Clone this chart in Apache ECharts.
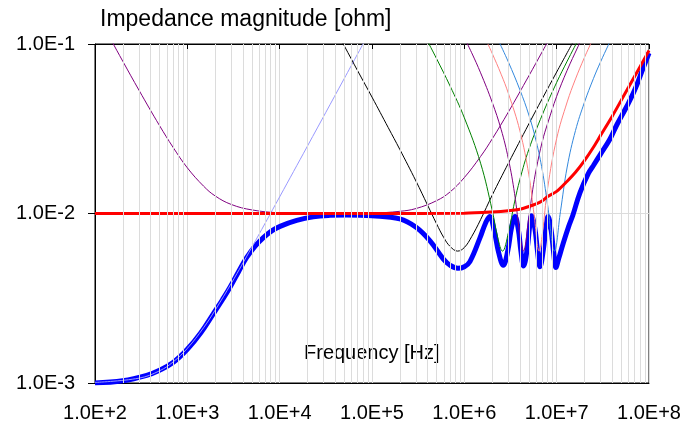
<!DOCTYPE html>
<html lang="en">
<head>
    <meta charset="UTF-8">
    <title>Impedance magnitude</title>
    <script src="https://cdn.jsdelivr.net/npm/echarts@6/dist/echarts.min.js"></script>
    <style>
        * { margin: 0; padding: 0; }
        html, body { width: 695px; height: 427px; background: #fff; }
        #main { width: 695px; height: 427px; }
    </style>
</head>
<body>
<div id="main"></div>
<script>
    // [frequency Hz, |Z| ohm]
    var totalZ = [
        [100, 1.0e-3], [200, 1.03e-3], [363, 1.11e-3], [500, 1.19e-3], [700, 1.32e-3],
        [1000, 1.58e-3], [1400, 1.98e-3], [1910, 2.56e-3], [2400, 3.1e-3], [2900, 3.67e-3],
        [3600, 4.55e-3], [4390, 5.5e-3], [5400, 6.4e-3], [6660, 7.2e-3], [8200, 7.9e-3],
        [1.01e4, 8.4e-3], [1.53e4, 9.1e-3], [2.31e4, 9.55e-3], [3.5e4, 9.75e-3], [5.3e4, 9.8e-3],
        [1.0e5, 9.7e-3], [2.0e5, 9.3e-3], [3.0e5, 8.3e-3], [4.25e5, 6.9e-3], [5.9e5, 5.4e-3],
        [7.0e5, 4.95e-3], [8.5e5, 4.75e-3], [1.0e6, 4.85e-3], [1.15e6, 5.2e-3], [1.48e6, 7.2e-3],
        [1.7e6, 8.8e-3], [1.88e6, 9.6e-3], [2.1e6, 8.0e-3], [2.35e6, 5.9e-3], [2.64e6, 4.95e-3],
        [2.95e6, 6.0e-3], [3.25e6, 8.3e-3], [3.54e6, 9.6e-3], [3.85e6, 8.0e-3], [4.1e6, 6.0e-3],
        [4.38e6, 4.9e-3], [4.8e6, 6.2e-3], [5.1e6, 8.4e-3], [5.35e6, 9.7e-3], [5.8e6, 8.2e-3],
        [6.2e6, 6.0e-3], [6.6e6, 4.85e-3], [7.2e6, 6.2e-3], [7.7e6, 8.5e-3], [8.06e6, 9.6e-3],
        [8.7e6, 8.0e-3], [9.3e6, 5.8e-3], [9.8e6, 4.8e-3], [1.05e7, 5.4e-3], [1.18e7, 6.7e-3],
        [1.35e7, 8.4e-3], [1.5e7, 9.8e-3], [1.79e7, 0.0133], [2.2e7, 0.0172], [2.5e7, 0.0192],
        [3.0e7, 0.0225], [3.78e7, 0.0275], [4.5e7, 0.0335], [5.7e7, 0.0425], [7.0e7, 0.0535],
        [8.5e7, 0.0705], [1.0e8, 0.0885]
    ];
    var targetZ = [
        [100, 0.01], [1e5, 0.01], [1e6, 0.01004], [2e6, 0.0102], [3e6, 0.01037], [4e6, 0.0106],
        [5e6, 0.011], [6e6, 0.0114], [7e6, 0.0119], [8e6, 0.0126], [1e7, 0.0135], [1.3e7, 0.0155],
        [1.6e7, 0.0175], [2e7, 0.0205], [2.5e7, 0.0246], [3e7, 0.029], [4e7, 0.0375], [5e7, 0.0465],
        [6e7, 0.0555], [7e7, 0.0645], [8e7, 0.0735], [9e7, 0.0825], [1e8, 0.0915]
    ];
    var vrmZ = [
        [100, 1.008e-3], [300, 1.068e-3], [500, 1.18e-3], [700, 1.33e-3], [1000, 1.6e-3],
        [1500, 2.12e-3], [2000, 2.69e-3], [3000, 3.88e-3], [5000, 6.33e-3], [7000, 8.81e-3],
        [1e4, 0.01254], [2e4, 0.025], [5e4, 0.0625], [8.5e4, 0.1063]
    ];
    var bulkZ = [
        [130, 0.1212], [150, 0.1052], [200, 0.0791], [300, 0.0533], [500, 0.033], [700, 0.0246],
        [1000, 0.0186], [1500, 0.0145], [2000, 0.0127], [3000, 0.0113], [5000, 0.0105], [1e4, 0.0101],
        [3e4, 0.01], [1e5, 0.01006], [2e5, 0.0103], [3e5, 0.0107], [5e5, 0.0119], [7e5, 0.0134],
        [1e6, 0.0163], [1.5e6, 0.0217], [2e6, 0.0275], [3e6, 0.0397], [5e6, 0.0649], [7e6, 0.0903],
        [8e6, 0.103]
    ];
    var capBlackZ = [
        [4e4, 0.122], [5e4, 0.0977], [7e4, 0.0694], [1e5, 0.0486], [1.5e5, 0.0321], [2e5, 0.0239],
        [3e5, 0.0155], [4e5, 0.0112], [5e5, 0.0087], [6e5, 0.0072], [7e5, 0.0064], [8.45e5, 0.006],
        [1e6, 0.0063], [1.2e6, 0.0073], [1.5e6, 0.0092], [2e6, 0.0128], [3e6, 0.0198], [5e6, 0.0338],
        [7e6, 0.0477], [1e7, 0.0683], [1.5e7, 0.1024]
    ];
    var capGreenZ = [
        [4e5, 0.1037], [5e5, 0.082], [7e5, 0.0566], [1e6, 0.0367], [1.5e6, 0.0198], [2e6, 0.0105],
        [2.3e6, 0.0072], [2.59e6, 0.006], [3e6, 0.0077], [3.5e6, 0.0117], [4e6, 0.0159], [5e6, 0.0239],
        [7e6, 0.0383], [1e7, 0.0593], [1.3e7, 0.0792], [1.7e7, 0.1051]
    ];
    var capPurpleZ = [
        [1e6, 0.1089], [1.2e6, 0.0888], [1.5e6, 0.0676], [2e6, 0.0454], [2.5e6, 0.0314], [3e6, 0.021],
        [3.5e6, 0.0131], [4e6, 0.0075], [4.35e6, 0.006], [5e6, 0.0095], [5.5e6, 0.0138], [6e6, 0.0182],
        [7e6, 0.0267], [8e6, 0.0341], [1e7, 0.0491], [1.3e7, 0.07], [1.7e7, 0.0963], [1.8e7, 0.1027]
    ];
    var capPinkZ = [
        [1.8e6, 0.1], [2e6, 0.0882], [2.5e6, 0.0664], [3e6, 0.0511], [4e6, 0.0307], [5e6, 0.0169],
        [5.7e6, 0.0098], [6.47e6, 0.006], [7e6, 0.0076], [8e6, 0.0142], [1e7, 0.0277], [1.3e7, 0.0455],
        [1.6e7, 0.0622], [2e7, 0.0833], [2.4e7, 0.1035]
    ];
    var capSteelZ = [
        [2.4e6, 0.1018], [3e6, 0.0783], [4e6, 0.0536], [5e6, 0.0381], [6e6, 0.0267], [7e6, 0.0179],
        [8e6, 0.0111], [9.46e6, 0.006], [1.1e7, 0.0103], [1.3e7, 0.0188], [1.6e7, 0.0309], [2e7, 0.0453],
        [2.5e7, 0.0625], [3e7, 0.0788], [3.6e7, 0.0977], [3.8e7, 0.1039]
    ];

    var minorGrid = [];
    for (var d = 2; d < 8; d++) {
        for (var k = 2; k <= 9; k++) minorGrid.push({ xAxis: k * Math.pow(10, d) });
    }

    var chart = echarts.init(document.getElementById('main'));
    var thin = function (name, data, color) {
        return {
            name: name, type: 'line', data: data, smooth: 0.4, symbol: 'none', z: 3,
            lineStyle: { color: color, width: 1 }
        };
    };
    var expLabel = function (v) {
        var e = Math.round(Math.log10(v));
        return '1.0E' + (e < 0 ? '-' : '+') + Math.abs(e);
    };
    var option = {
        animation: false,
        textStyle: { fontFamily: 'Liberation Sans, Arial, sans-serif' },
        title: {
            text: 'Impedance magnitude [ohm]', left: 95, top: 3,
            textStyle: { fontSize: 23, fontWeight: 'normal', color: '#000' }
        },
        graphic: [{
            type: 'text', left: 304, top: 343,
            style: { text: 'Frequency [Hz]', fontSize: 20, fill: '#000', fontFamily: 'Liberation Sans, Arial, sans-serif' }
        }],
        grid: { left: 95, right: 46, top: 44, bottom: 44, show: true, borderColor: '#000', borderWidth: 1 },
        xAxis: [{
            type: 'log', logBase: 10, min: 100, max: 1e8, splitNumber: 6,
            axisLine: { lineStyle: { color: '#000' } },
            axisTick: { show: false },
            axisLabel: { formatter: expLabel, fontSize: 20, color: '#000', margin: 20 },
            splitLine: { show: true, lineStyle: { color: '#dcdcdc' } }
        }, {
            type: 'log', logBase: 10, min: 100, max: 1e8, splitNumber: 6, position: 'top',
            axisLine: { lineStyle: { color: '#000' } },
            axisTick: { inside: true, length: 5, lineStyle: { color: '#000' } },
            axisLabel: { show: false },
            splitLine: { show: false }
        }],
        yAxis: {
            type: 'log', logBase: 10, min: 1e-3, max: 1e-1,
            axisLine: { show: true, lineStyle: { color: '#000' } },
            axisTick: { show: true, length: 7, lineStyle: { color: '#000' } },
            axisLabel: { formatter: expLabel, fontSize: 20, color: '#000', margin: 20 },
            splitLine: { show: true, lineStyle: { color: '#dcdcdc' } }
        },
        series: [
            {
                name: 'grid', type: 'line', data: [], z: 1, silent: true,
                markLine: {
                    silent: true, symbol: 'none', label: { show: false }, animation: false,
                    lineStyle: { color: '#dcdcdc', type: 'solid', width: 1 },
                    data: minorGrid
                }
            },
            {
                name: 'total', type: 'line', data: totalZ, smooth: 0.4, symbol: 'none', z: 2,
                lineStyle: { color: '#0000ff', width: 5 }
            },
            thin('vrm', vrmZ, '#9999ff'),
            thin('bulk', bulkZ, '#800080'),
            thin('cap1', capBlackZ, '#000000'),
            thin('cap2', capGreenZ, '#008000'),
            thin('cap3', capPurpleZ, '#800080'),
            thin('cap4', capPinkZ, '#ff8080'),
            thin('cap5', capSteelZ, '#3388dd'),
            {
                name: 'target', type: 'line', data: targetZ, smooth: 0.3, symbol: 'none', z: 4,
                lineStyle: { color: '#ff0000', width: 3 }
            }
        ]
    };
    chart.setOption(option);
</script>
</body>
</html>
